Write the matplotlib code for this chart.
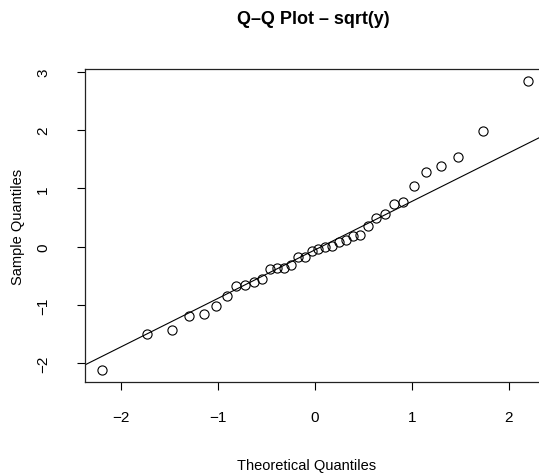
import numpy as np
import matplotlib
matplotlib.use("Agg")
import matplotlib.pyplot as plt

plt.rcParams['font.family'] = ['Liberation Sans', 'DejaVu Sans']

# theoretical normal quantiles (n = 36)
theoretical = [
    -2.200, -1.732, -1.480, -1.297, -1.150, -1.024, -0.913, -0.812, -0.719,
    -0.631, -0.549, -0.469, -0.393, -0.319, -0.246, -0.175, -0.105, -0.035,
    0.035, 0.105, 0.175, 0.246, 0.319, 0.393, 0.469, 0.549, 0.631,
    0.719, 0.812, 0.913, 1.024, 1.150, 1.297, 1.480, 1.732, 2.200,
]

# sample quantiles
sample = [
    -2.12, -1.50, -1.42, -1.19, -1.15, -1.02, -0.84, -0.67, -0.65,
    -0.60, -0.55, -0.38, -0.37, -0.37, -0.32, -0.18, -0.17, -0.08,
    -0.04, -0.01, 0.02, 0.08, 0.12, 0.18, 0.21, 0.35, 0.49,
    0.56, 0.74, 0.76, 1.05, 1.29, 1.39, 1.54, 1.99, 2.85,
]

x_ticks = [-2, -1, 0, 1, 2]
y_ticks = [-2, -1, 0, 1, 2, 3]

fig = plt.figure(figsize=(5.39, 4.77), dpi=100)
ax = fig.add_axes([85 / 539, 94 / 477, 460 / 539, 313 / 477])

ax.plot(theoretical, sample, 'o', mfc='none', mec='black', ms=6.6, mew=0.8)
ax.margins(x=0.04, y=0.04)

# qqline through the quartiles
q1, q3 = np.quantile(sample, [0.25, 0.75])
z1, z3 = -0.6745, 0.6745
slope = (q3 - q1) / (z3 - z1)
ax.axline((z1, q1), slope=slope, color='black', lw=0.8)

ax.set_xticks(x_ticks)
ax.set_yticks(y_ticks)
ax.tick_params(direction='out', length=6, width=0.8, labelsize=11, pad=14)
ax.tick_params(axis='y', labelrotation=90, pad=19)
for lab in ax.get_yticklabels():
    lab.set_va('center')
for s in ax.spines.values():
    s.set_linewidth(0.9)
    s.set_color('#222222')

fig.text(313 / 539, 1 - 20 / 477, 'Q–Q Plot – sqrt(y)', ha='center', va='center',
         fontsize=13, fontweight='bold')
fig.text(307 / 539, 1 - 466 / 477, 'Theoretical Quantiles', ha='center', va='center',
         fontsize=10.5)
fig.text(18 / 539, 1 - 227 / 477, 'Sample Quantiles', ha='center', va='center',
         rotation=90, fontsize=10.5)

fig.savefig('out.png', dpi=100)
